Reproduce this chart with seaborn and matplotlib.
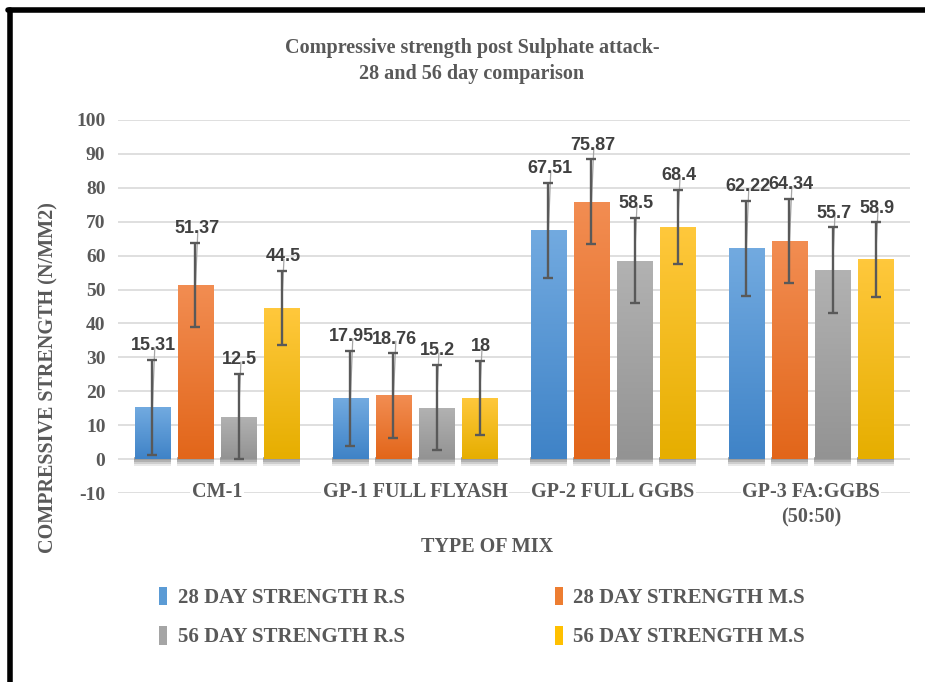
import numpy as np
import pandas as pd
import matplotlib.pyplot as plt
import seaborn as sns
from matplotlib.colors import LinearSegmentedColormap
from matplotlib.patches import Rectangle
from matplotlib.lines import Line2D

# data
mixes = ['CM-1', 'GP-1 FULL FLYASH', 'GP-2 FULL GGBS', 'GP-3 FA:GGBS\n(50:50)']
series = ['28 DAY STRENGTH R.S', '28 DAY STRENGTH M.S',
          '56 DAY STRENGTH R.S', '56 DAY STRENGTH M.S']
rs28 = [15.31, 17.95, 67.51, 62.22]
ms28 = [51.37, 18.76, 75.87, 64.34]
rs56 = [12.5, 15.2, 58.5, 55.7]
ms56 = [44.5, 18, 68.4, 58.9]
errs = [14.0, 12.5, 12.6, 11.0]   # error bar half-length per series

tops = ['#72AAE0', '#F28D52', '#B2B2B2', '#FFC83C']
bots = ['#3F83C7', '#E2661A', '#939393', '#E6AE00']
base = ['#5B9BD5', '#ED7D31', '#A5A5A5', '#FFC000']
txt_col = '#595959'

vals = [rs28, ms28, rs56, ms56]
df = pd.DataFrame({
    'mix': np.tile(mixes, 4),
    'series': np.repeat(series, 4),
    'value': np.concatenate(vals),
})

sns.set_style('white')
plt.rcParams['font.family'] = ['Liberation Serif', 'DejaVu Serif']
plt.rcParams['axes.unicode_minus'] = False

fig = plt.figure(figsize=(9.25, 6.82), dpi=100)
ax = fig.add_axes([118/925, 1-493/682, 792/925, 373/682])

sns.barplot(data=df, x='mix', y='value', hue='series', hue_order=series,
            order=mixes, palette=base, width=0.87, gap=0.18, ax=ax,
            legend=False, zorder=3, linewidth=0, edgecolor='none')

bar_conts = list(ax.containers)[:4]

# gradient fill + shadow + error bars + labels
for i, cont in enumerate(bar_conts):
    cmap = LinearSegmentedColormap.from_list('g%d' % i, [bots[i], tops[i]])
    for j, p in enumerate(cont.patches):
        x0, w, h = p.get_x(), p.get_width(), p.get_height()
        grad = np.linspace(0, 1, 100).reshape(-1, 1)
        im = ax.imshow(grad, cmap=cmap, origin='lower', aspect='auto',
                       extent=(x0, x0 + w, 0, h), zorder=3.5)
        im.set_clip_path(p)
        # soft drop shadow under the bar
        for d, a in [(2.0, 0.10), (1.4, 0.14), (0.8, 0.18)]:
            ax.add_patch(Rectangle((x0 - 0.004, -d), w + 0.008, d + 0.5,
                                   facecolor='#303030', alpha=a, lw=0,
                                   zorder=2.5))
        xc = x0 + w / 2
        v = vals[i][j]
        e = errs[i]
        ax.errorbar(xc, v, yerr=e, fmt='none', ecolor='#595959',
                    elinewidth=1.7, capsize=3.5, capthick=1.7, zorder=5)
        ax.plot([xc, xc + 0.012], [v, v + e + 3.5], color='#a6a6a6',
                lw=0.9, zorder=4.5)
        ax.annotate(f'{v:g}', xy=(xc, v + e), xytext=(1, 4),
                    textcoords='offset points', ha='center', va='bottom',
                    fontsize=13, fontweight='bold', color='#404040',
                    family=['Liberation Sans', 'DejaVu Sans'], zorder=6)

ax.set_xlim(-0.5, 3.5)
ax.set_ylim(-10, 100)
ax.set_yticks(range(-10, 101, 10))
ax.yaxis.grid(True, color='#d9d9d9', lw=1.2, zorder=0)
ax.xaxis.grid(False)
sns.despine(ax=ax, left=True, bottom=True)
ax.tick_params(axis='y', length=0, pad=9, labelsize=14, labelcolor=txt_col)
for t in ax.get_yticklabels():
    t.set_fontweight('bold')
ax.set_xticks([])
ax.set_xlabel('')

for k, m in enumerate(mixes):
    ax.annotate(m, xy=(k, -10), xytext=(0, 8), textcoords='offset points',
                ha='center', va='top', fontsize=14.5, fontweight='bold',
                color=txt_col, linespacing=1.4,
                bbox=dict(facecolor='white', edgecolor='none', pad=1),
                annotation_clip=False, zorder=6)

ax.set_ylabel('COMPRESSIVE STRENGTH (N/MM2)', fontsize=14.5,
              fontweight='bold', color=txt_col)
ax.yaxis.set_label_coords(-0.075, 0.31)
fig.text(487/925, 1-547/682, 'TYPE OF MIX', ha='center', va='center',
         fontsize=14.5, fontweight='bold', color=txt_col)

fig.text(472/925, 1-61/682,
         'Compressive strength post Sulphate attack-\n28 and 56 day comparison',
         ha='center', va='center', fontsize=14.5, fontweight='bold',
         color=txt_col, linespacing=1.45)

# legend
handles = [Rectangle((0, 0), 1, 1, facecolor=c, edgecolor='none') for c in base]
order = [0, 2, 1, 3]
fig.legend([handles[i] for i in order], [series[i] for i in order],
           ncol=2, loc='center left', bbox_to_anchor=(140/925, 1-617/682),
           frameon=False, handlelength=0.4, handleheight=1.0,
           handletextpad=0.5, columnspacing=7.2, labelspacing=0.85,
           prop=dict(family='Liberation Serif', weight='bold', size=15),
           labelcolor=txt_col)

# outer frame (left and top only)
fig.add_artist(Line2D([10/925, 10/925], [0, 1-10/682], color='black',
                      lw=4, transform=fig.transFigure))
fig.add_artist(Line2D([8/925, 1], [1-10/682, 1-10/682], color='black',
                      lw=4, transform=fig.transFigure))

fig.savefig('out.png', dpi=100, facecolor='white')
